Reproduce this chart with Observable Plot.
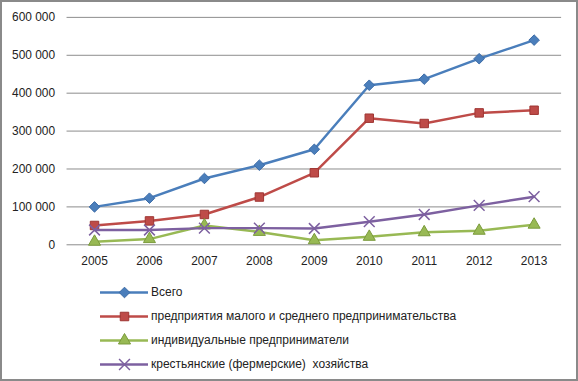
<!DOCTYPE html>
<html><head><meta charset="utf-8">
<script src="https://cdn.jsdelivr.net/npm/d3@7"></script>
<script src="https://cdn.jsdelivr.net/npm/@observablehq/plot@0.6"></script>
<style>
body{margin:0;background:#fff;}
#frame{width:578px;height:381px;box-sizing:border-box;border:2px solid #8a8a8a;position:relative;overflow:hidden;background:#fff;font-family:"Liberation Sans",Arial,sans-serif;}
#chart{position:absolute;left:-2px;top:-2px;}
#legend{position:absolute;left:98px;top:278px;font-size:12px;color:#222;}
.item{display:flex;align-items:center;height:24px;}
.item svg{margin-right:3px;}
</style></head>
<body><div id="frame"><div id="chart"></div><div id="legend"></div></div>
<script>
const years = [2005, 2006, 2007, 2008, 2009, 2010, 2011, 2012, 2013];
const seriesNames = ["Всего", "предприятия малого и среднего предпринимательства", "индивидуальные предприниматели", "крестьянские (фермерские)  хозяйства"];
const total = [100000, 123000, 175000, 210000, 252000, 421000, 437000, 491000, 540000];
const smallMedium = [51000, 63000, 80000, 126000, 190000, 334000, 320000, 348000, 355000];
const individual = [8000, 15000, 51000, 34000, 12000, 21000, 33000, 37000, 53000];
const farms = [39000, 39000, 44000, 44000, 43000, 61000, 80000, 104000, 127000];
const yTicks = [0, 100000, 200000, 300000, 400000, 500000, 600000];

const colors = ["#4A7EBB", "#BE4B48", "#98B954", "#7D60A0"];
const strokes = ["#3A6AA5", "#9E3532", "#7A9A3A", "#6A4E8C"];
const symbols = ["diamond2", "square", "triangle", "times"];
const radii = [4.8, 4.8, 4.5, 5];
const allVals = [total, smallMedium, individual, farms];

const data = [];
allVals.forEach((vals, s) => vals.forEach((v, i) => data.push({series: seriesNames[s], idx: s, year: years[i], value: v})));

const fmt = d => d === 0 ? "0" : d3.format(",")(d).replace(/,/g, "\u00a0");

function dotMark(d, s) {
  return symbols[s] === "times"
    ? Plot.dot(d, {x: "x", y: "y", symbol: "times", r: radii[s], stroke: colors[s], strokeWidth: 1.5})
    : Plot.dot(d, {x: "x", y: "y", symbol: symbols[s], r: radii[s], fill: colors[s], stroke: strokes[s], strokeWidth: 1});
}

const marks = [
  Plot.ruleY(yTicks, {stroke: "#8c8c8c", strokeWidth: 1})
];
seriesNames.forEach((name, s) => {
  const d = data.filter(r => r.idx === s).map(r => ({x: r.year, y: r.value}));
  marks.push(Plot.line(d, {x: "x", y: "y", stroke: colors[s], strokeWidth: 2.5}));
  marks.push(dotMark(d, s));
});
marks.push(Plot.axisY({ticks: yTicks, tickFormat: fmt, tickSize: 0, tickPadding: 12, fontSize: 12, fill: "#222"}));
marks.push(Plot.axisX({ticks: years, tickFormat: d => String(d), tickSize: 0, tickPadding: 12, fontSize: 12, fill: "#222"}));

const chart = Plot.plot({
  width: 580, height: 278,
  marginTop: 17, marginBottom: 32, marginLeft: 67, marginRight: 15,
  style: {fontFamily: "Liberation Sans, Arial, sans-serif", background: "transparent"},
  x: {type: "linear", domain: [2004.5, 2013.5], label: null},
  y: {domain: [0, 600000], label: null},
  marks
});
document.getElementById("chart").appendChild(chart);

const legend = document.getElementById("legend");
seriesNames.forEach((name, s) => {
  const item = document.createElement("div");
  item.className = "item";
  const sw = Plot.plot({
    width: 48, height: 14, margin: 0,
    x: {domain: [0, 1], axis: null}, y: {domain: [0, 1], axis: null},
    style: {background: "transparent"},
    marks: [
      Plot.lineY([{x: 0, y: 0.5}, {x: 1, y: 0.5}], {x: "x", y: "y", stroke: colors[s], strokeWidth: 2.5}),
      dotMark([{x: 0.5, y: 0.5}], s)
    ]
  });
  item.appendChild(sw);
  const t = document.createElement("span");
  t.textContent = name;
  t.style.whiteSpace = "pre";
  item.appendChild(t);
  legend.appendChild(item);
});
</script></body></html>
